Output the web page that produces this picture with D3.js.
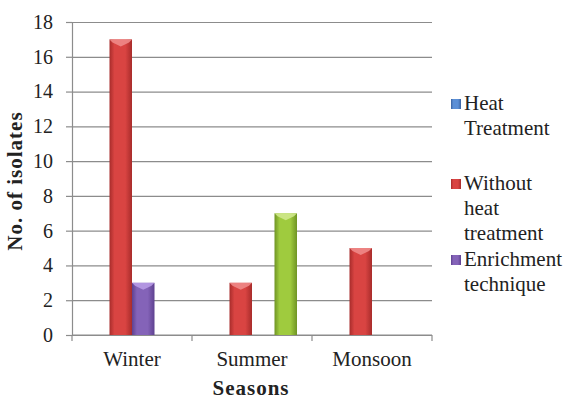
<!DOCTYPE html>
<html>
<head>
<meta charset="utf-8">
<script src="https://cdn.jsdelivr.net/npm/d3@7"></script>
<style>
  html, body { margin: 0; padding: 0; background: #fff; }
  svg { display: block; }
  text { font-family: "Liberation Serif", "Times New Roman", serif; fill: #222; }
</style>
</head>
<body>
<svg id="chart" width="566" height="400"></svg>
<script>
// Isolates recovered per season, by method
const seasons = ["Winter", "Summer", "Monsoon"];
const seriesKeys = ["heat", "without", "enrichment", "extra"];
const heatTreatment = [0, 0, 0];
const withoutHeat = [17, 3, 5];
const enrichment = [3, 0, 0];
const extraSeries = [0, 7, 0];
const yTicks = [0, 2, 4, 6, 8, 10, 12, 14, 16, 18];
const legendLabels = [["Heat", "Treatment"], ["Without", "heat", "treatment"], ["Enrichment", "technique"]];
const legendKeys = ["heat", "without", "enrichment"];

const valuesByKey = { heat: heatTreatment, without: withoutHeat, enrichment: enrichment, extra: extraSeries };
const palette = {
  heat:       { mid: "#5b8fd6", edge: "#3a62a0", cap: "#9cc0ee" },
  without:    { mid: "#d94442", edge: "#a82c2b", cap: "#ee8a88" },
  enrichment: { mid: "#8463b8", edge: "#5e4190", cap: "#b79ae6" },
  extra:      { mid: "#9fcb3e", edge: "#6f9424", cap: "#cfe88c" }
};

const svg = d3.select("#chart");
const plotLeft = 72, plotRight = 432, plotTop = 22, plotBottom = 335;

const x = d3.scaleBand().domain(seasons).range([plotLeft, plotRight]).padding(0);
const inner = d3.scaleBand().domain(seriesKeys)
  .range([x.bandwidth() * 0.125, x.bandwidth() * 0.875]).padding(0);
const y = d3.scaleLinear().domain([0, 18]).range([plotBottom, plotTop]);

// gradients for the bevelled bars
const defs = svg.append("defs");
seriesKeys.forEach(k => {
  const g = defs.append("linearGradient").attr("id", "grad-" + k)
    .attr("x1", "0%").attr("x2", "100%").attr("y1", "0%").attr("y2", "0%");
  g.append("stop").attr("offset", "0%").attr("stop-color", palette[k].edge);
  g.append("stop").attr("offset", "22%").attr("stop-color", palette[k].mid);
  g.append("stop").attr("offset", "70%").attr("stop-color", palette[k].mid);
  g.append("stop").attr("offset", "100%").attr("stop-color", palette[k].edge);
});

// gridlines
svg.append("g")
  .attr("transform", `translate(${plotLeft},0)`)
  .call(d3.axisLeft(y).tickValues(yTicks).tickSize(-(plotRight - plotLeft)).tickFormat(""))
  .call(g => g.select(".domain").remove())
  .call(g => g.selectAll("line").attr("stroke", "#8c8c8c").attr("stroke-width", 1.2));

// y axis
svg.append("g")
  .attr("transform", `translate(${plotLeft},0)`)
  .call(d3.axisLeft(y).tickValues(yTicks).tickSize(6).tickPadding(13))
  .call(g => g.select(".domain").attr("stroke", "#8c8c8c").attr("stroke-width", 1.2))
  .call(g => g.selectAll("line").attr("stroke", "#8c8c8c").attr("stroke-width", 1.2))
  .call(g => g.selectAll("text").attr("font-size", 20)
    .attr("font-family", "Liberation Serif").attr("fill", "#222"));

// x axis line with tick marks at category boundaries
svg.append("line").attr("x1", plotLeft).attr("x2", plotRight).attr("y1", plotBottom).attr("y2", plotBottom)
  .attr("stroke", "#8c8c8c").attr("stroke-width", 1.2);
const boundaries = seasons.map(s => x(s)).concat([plotRight]);
svg.append("g").selectAll("line").data(boundaries).join("line")
  .attr("x1", d => d).attr("x2", d => d).attr("y1", plotBottom).attr("y2", plotBottom + 6)
  .attr("stroke", "#8c8c8c").attr("stroke-width", 1.2);

svg.append("g").selectAll("text").data(seasons).join("text")
  .attr("x", d => x(d) + x.bandwidth() / 2).attr("y", 366)
  .attr("text-anchor", "middle").attr("font-size", 21).text(d => d);

// bars
const barData = [];
seasons.forEach((s, i) => seriesKeys.forEach(k => {
  const v = valuesByKey[k][i];
  if (v > 0) barData.push({ season: s, key: k, value: v });
}));
const bars = svg.append("g").selectAll("g").data(barData).join("g");
bars.append("rect")
  .attr("x", d => x(d.season) + inner(d.key))
  .attr("y", d => y(d.value))
  .attr("width", inner.bandwidth())
  .attr("height", d => y(0) - y(d.value))
  .attr("fill", d => `url(#grad-${d.key})`);
bars.append("path")
  .attr("d", d => {
    const x0 = x(d.season) + inner(d.key), w = inner.bandwidth(), y0 = y(d.value);
    return `M${x0},${y0}L${x0 + w},${y0}L${x0 + w - 3},${y0 + 3}L${x0 + w / 2},${y0 + 7}L${x0 + 3},${y0 + 3}Z`;
  })
  .attr("fill", d => palette[d.key].cap).attr("opacity", 0.9);

// axis titles
svg.append("text").attr("x", 251).attr("y", 395).attr("text-anchor", "middle")
  .attr("font-size", 21).attr("font-weight", "bold").attr("letter-spacing", 1).text("Seasons");
svg.append("text").attr("transform", "translate(22,181) rotate(-90)")
  .attr("text-anchor", "middle").attr("font-size", 21).attr("font-weight", "bold")
  .attr("letter-spacing", 1).text("No. of isolates");

// legend
const firstBaselines = [110, 190, 266];
const lineStep = 25;
const legend = svg.append("g").selectAll("g").data(legendKeys).join("g");
legend.append("rect")
  .attr("x", 451).attr("y", (d, i) => firstBaselines[i] - 11)
  .attr("width", 10).attr("height", 10)
  .attr("fill", d => `url(#grad-${d})`);
legend.each(function (d, i) {
  d3.select(this).selectAll("text").data(legendLabels[i]).join("text")
    .attr("x", 464).attr("y", (t, j) => firstBaselines[i] + j * lineStep)
    .attr("font-size", 21).text(t => t);
});
</script>
</body>
</html>
